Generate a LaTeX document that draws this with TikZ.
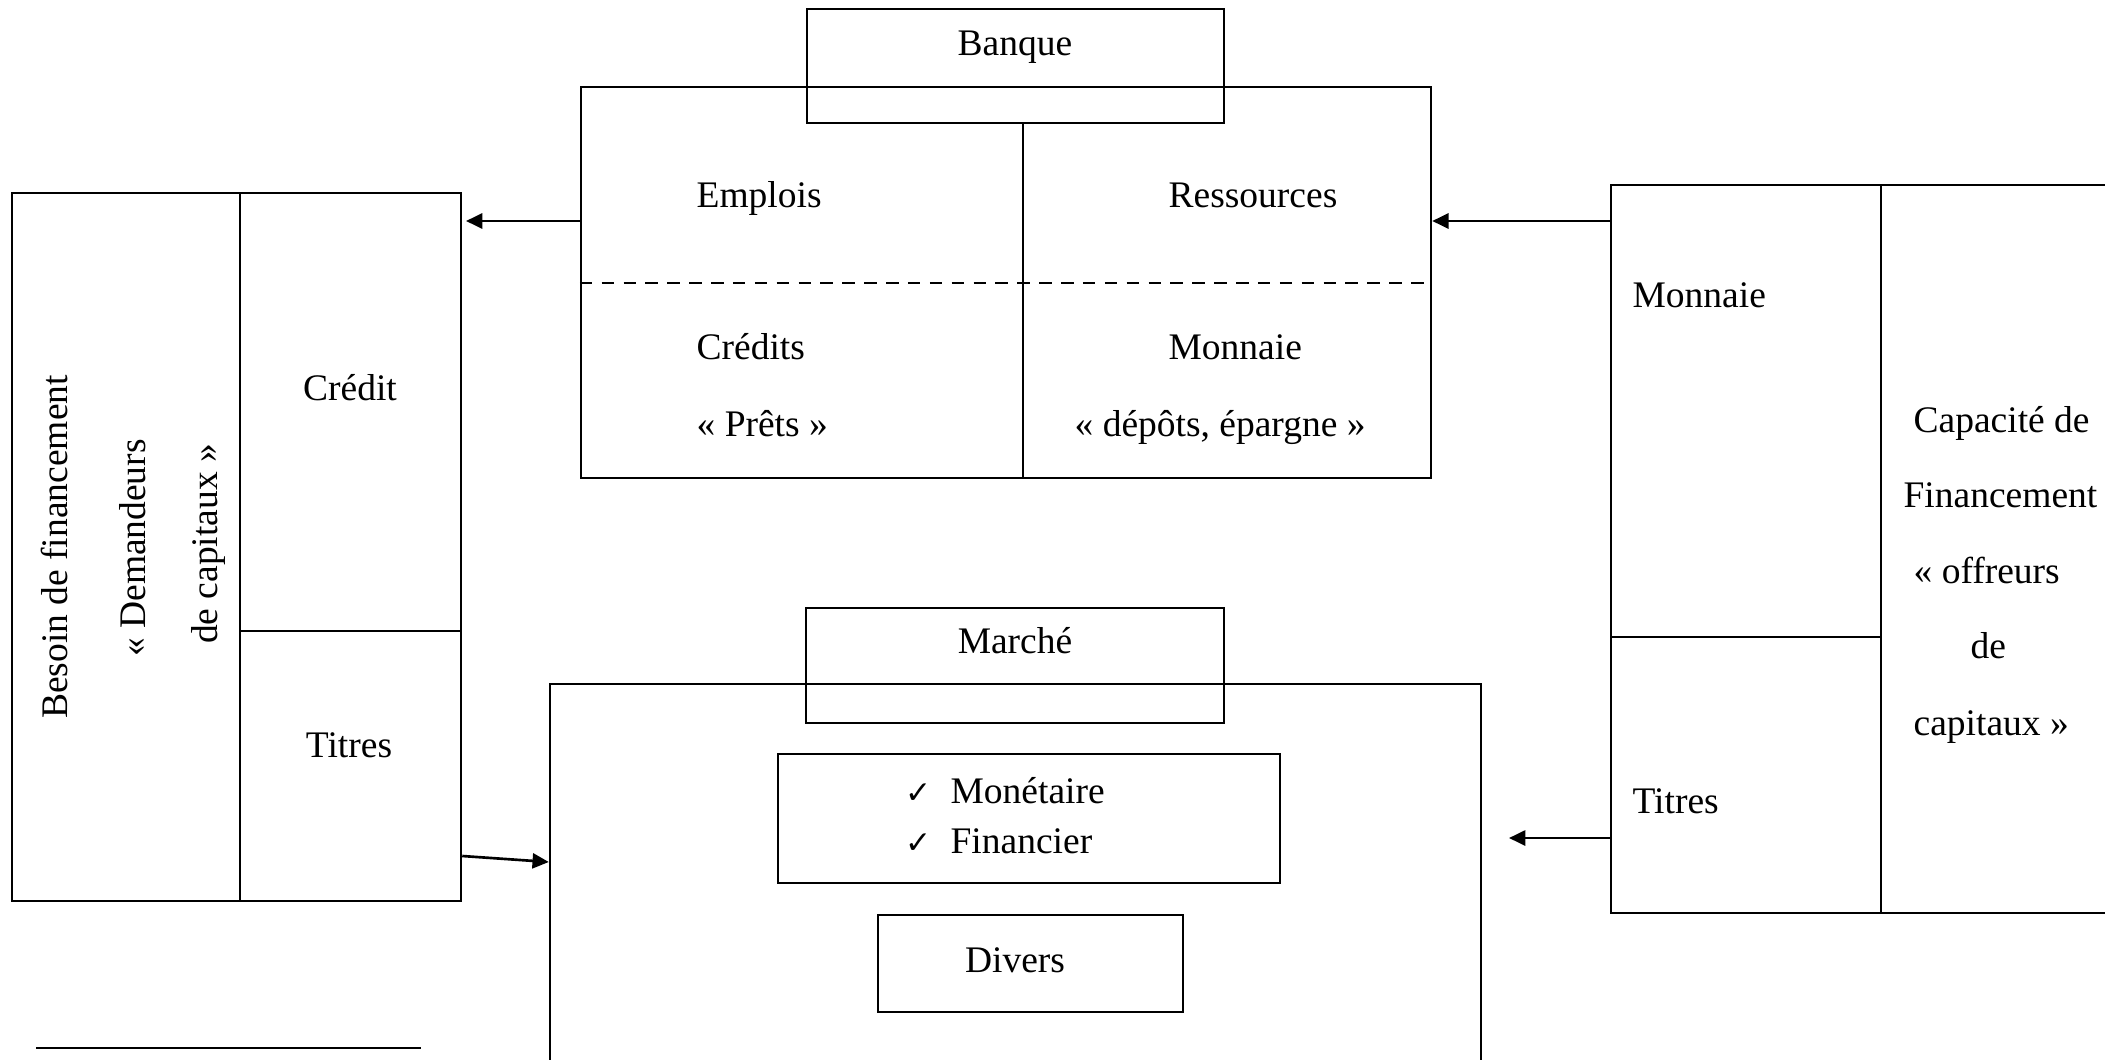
\documentclass[tikz,border=0pt]{standalone}
\usepackage{fontspec}
\setmainfont{Liberation Serif}
\newfontfamily\symfont{DejaVu Sans}
\usetikzlibrary{arrows.meta}
\begin{document}
\begin{tikzpicture}[x=0.32pt,y=-0.32pt,
  font=\fontsize{12pt}{14pt}\selectfont,
  rbox/.style={draw,line width=0.8pt,inner sep=0pt,rectangle},
  lbl/.style={inner sep=0pt,anchor=base west},
  clbl/.style={inner sep=0pt,anchor=base},
  rlbl/.style={inner sep=0pt,anchor=base,rotate=90},
  arr/.style={line width=0.85pt,-{Triangle[length=5.2pt,width=4.8pt]}},
  ln/.style={line width=0.8pt}]
\useasboundingbox (0,0) rectangle (2105,1060);
\clip (0,0) rectangle (2105,1060);

% Bank
\node[rbox,minimum width=272pt,minimum height=125.12pt] (bank) at (1006,282.5) {};
\node[rbox,minimum width=133.44pt,minimum height=36.48pt] (banque) at (1015.5,66) {};
\node[clbl] (tbanque) at (1015,55) {Banque};
\draw[ln] (1023,123) -- (1023,478);
\draw[ln,dash pattern=on 4pt off 3pt] (bank.west |- 0,283) -- (bank.east |- 0,283);
\node[lbl] (templois) at (696,207) {Emplois};
\node[lbl] (tress) at (1168,207) {Ressources};
\node[lbl] (tcredits) at (696,359) {Crédits};
\node[lbl] (tprets) at (696,436) {« Prêts »};
\node[lbl] (tmonb) at (1168,359) {Monnaie};
\node[lbl] (tdepots) at (1074,436) {« dépôts, épargne »};

% Left box
\node[rbox,minimum width=143.68pt,minimum height=226.56pt] (leftbox) at (236.5,547) {};
\draw[ln] (240,193) -- (240,901);
\draw[ln] (240,631) -- (461,631);
\node[clbl] (tcredit) at (350,400) {Crédit};
\node[clbl] (ttitresl) at (349,757) {Titres};
\node[rlbl] (tbesoin) at (68,547) {Besoin de financement};
\node[rlbl] (tdemand) at (145,548) {« Demandeurs};
\node[rlbl] (tdecap) at (217,544) {de capitaux »};

% Right box
\node[rbox,minimum width=166.08pt,minimum height=232.96pt] (rightbox) at (1870.5,549) {};
\draw[ln] (1881,185) -- (1881,913);
\draw[ln] (1611,637) -- (1881,637);
\node[lbl] (tmonr) at (1632,307) {Monnaie};
\node[lbl] (ttitresr) at (1632,813) {Titres};
\node[lbl] (tcap1) at (1913,432) {Capacité de};
\node[lbl] (tcap2) at (1903,507) {Financement};
\node[lbl] (tcap3) at (1913,583) {« offreurs};
\node[lbl] (tcap4) at (1970,658) {de};
\node[lbl] (tcap5) at (1913,735) {capitaux »};

% Marche
\node[rbox,minimum width=297.92pt,minimum height=133.12pt] (marche) at (1015.5,892) {};
\node[rbox,minimum width=133.76pt,minimum height=36.8pt] (marchet) at (1015,665.5) {};
\node[clbl] (tmarche) at (1015,653) {Marché};
\node[rbox,minimum width=160.64pt,minimum height=41.28pt] (mfbox) at (1029,818.5) {};
\node[lbl] (chk1) at (905,803) {\symfont\fontsize{10pt}{12pt}\selectfont ✓};
\node[lbl] (tmonet) at (950,803) {Monétaire};
\node[lbl] (chk2) at (905,853) {\symfont\fontsize{10pt}{12pt}\selectfont ✓};
\node[lbl] (tfin) at (950,853) {Financier};
\node[rbox,minimum width=97.6pt,minimum height=31.04pt] (divers) at (1030.5,963.5) {};
\node[clbl] (tdivers) at (1015,972) {Divers};

% Arrows
\coordinate (a1s) at (bank.west |- 0,221);
\coordinate (a1e) at (466,221);
\draw[arr] (a1s) -- (a1e);
\coordinate (a2s) at (rightbox.west |- 0,221);
\coordinate (a2e) at (bank.east |- 0,221);
\draw[arr] (a2s) -- (a2e);
\coordinate (a3s) at (leftbox.east |- 0,856);
\coordinate (a3e) at (marche.west |- 0,862);
\draw[arr] (a3s) -- (a3e);
\coordinate (a4s) at (rightbox.west |- 0,838);
\coordinate (a4e) at (1509,838);
\draw[arr] (a4s) -- (a4e);

% footnote rule
\draw[line width=0.75pt] (36,1048) -- (421,1048);
\end{tikzpicture}
\end{document}
